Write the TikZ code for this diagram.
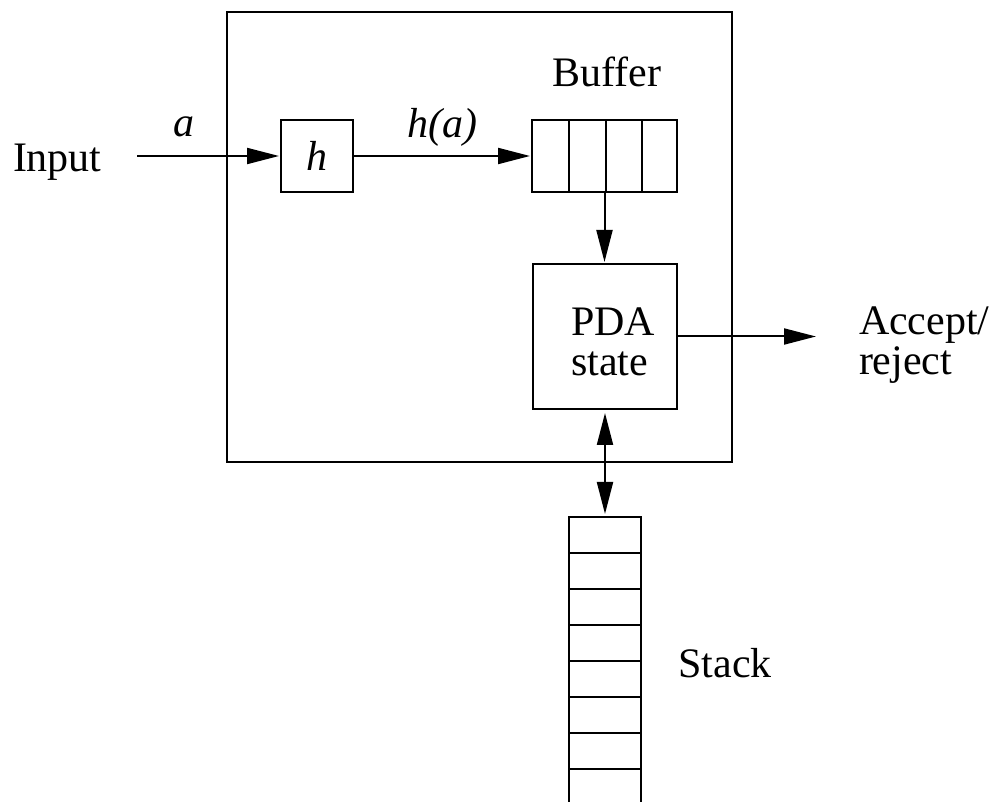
\documentclass[tikz,border=0pt]{standalone}
\usepackage{fontspec}
\setmainfont{Liberation Serif}
\usetikzlibrary{arrows.meta}
\begin{document}
\begin{tikzpicture}[x=0.5pt,y=-0.5pt,
  line width=1pt,
  every node/.style={font=\fontsize{21}{20}\selectfont},
  box/.style={draw, rectangle, inner sep=0pt, outer sep=0pt},
  lbl/.style={inner sep=0pt},
  arr/.style={-{Triangle[length=16pt,width=8pt]}, shorten >=1pt},
  darr/.style={{Triangle[length=16pt,width=8pt]}-{Triangle[length=16pt,width=8pt]}, shorten >=1.5pt, shorten <=2pt}]
\useasboundingbox (0,0) rectangle (993,802);
% boxes
\node[box, minimum width=252.5pt, minimum height=225pt] (outer) at (479.5,237) {};
\node[box, minimum size=36pt] (h) at (317,156) {\itshape h};
\node[box, minimum width=72.5pt, minimum height=36pt] (buf) at (604.5,156) {};
\foreach \x in {569,606,642} \draw (\x,120) -- (\x,192);
\node[box, minimum width=72pt, minimum height=72.5pt] (pda) at (605,336.5) {};
\node[lbl, align=left, anchor=west] (pdatext) at (570,342) {PDA\\state};
% stack
\node[box, minimum width=36pt, minimum height=18pt] (stack) at (605,535) {};
\draw (stack.south west) -- (569,802);
\draw (stack.south east) -- (641,802);
\foreach \y in {589,625,661,697,733,769} \draw (569,\y) -- (641,\y);
% connectors
\coordinate (in) at (137,156);
\coordinate (out) at (818,336.5);
\draw[arr] (in) -- (h);
\draw[arr] (h) -- (buf);
\draw[arr] (buf.south) -- (buf.south |- pda.north);
\draw[arr] (pda) -- (out);
\draw[darr] (pda.south) -- (stack.north);
% labels
\node[lbl, anchor=base west] (input) at (12,172) {Input};
\node[lbl, anchor=base] (alab) at (184,137) {\itshape a};
\node[lbl, anchor=base] (halab) at (442.5,138) {\itshape h(a)};
\node[lbl, anchor=base] (buflab) at (607,87) {Buffer};
\node[lbl, anchor=base] (stacklab) at (725,678) {Stack};
\node[lbl, align=left, anchor=west] (acc) at (858,345.5) {Accept/\\reject};
\end{tikzpicture}
\end{document}
